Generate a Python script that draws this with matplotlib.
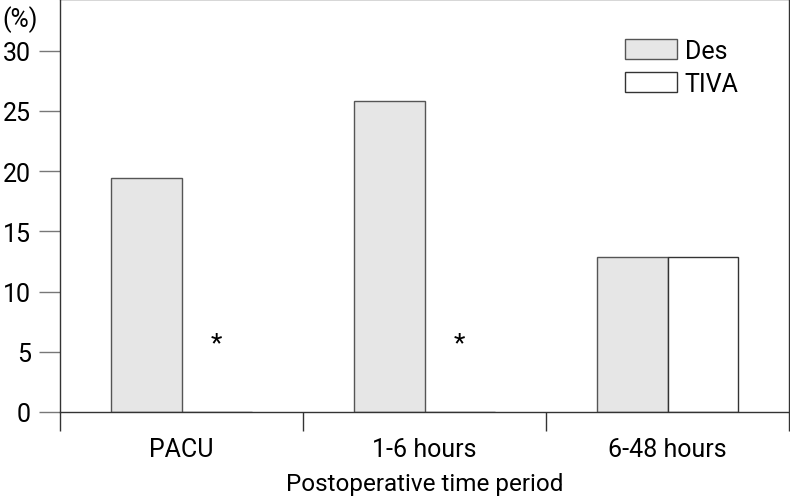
import numpy as np
import matplotlib
matplotlib.use("Agg")
from matplotlib import pyplot as plt

periods = ["PACU", "1-6 hours", "6-48 hours"]
des = [19.4, 25.8, 12.9]
tiva = [0, 0, 12.9]
sig = [True, True, False]
star_y = 5.7

plt.rcParams['font.family'] = ['Liberation Sans Narrow', 'DejaVu Sans Condensed', 'Roboto', 'DejaVu Sans']

fig = plt.figure(figsize=(7.9, 5.02), dpi=100)
ax = fig.add_axes([60/790, 89/502, 729/790, 413/502])

x = np.arange(len(periods))
w = 0.29
ax.bar(x - w/2, des, w, color='#e6e6e6', edgecolor='#555555', linewidth=1, label='Des')
ax.bar(x + w/2, tiva, w, color='white', edgecolor='#333333', linewidth=1, label='TIVA')

for i, s in enumerate(sig):
    if s:
        ax.text(x[i] + w/2, star_y, '*', ha='center', va='center', fontsize=19)

ax.set_xlim(-0.5, 2.5)
ax.set_ylim(0, 34.3)
ax.set_yticks(np.arange(0, 31, 5))
ax.tick_params(axis='y', labelsize=18, length=15, width=1, color='#777777', pad=6)

ax.set_xticks([-0.5, 0.5, 1.5, 2.5])
ax.set_xticklabels([])
ax.tick_params(axis='x', which='major', length=14, width=1, color='#333333')
ax.set_xticks(x, minor=True)
ax.set_xticklabels(periods, minor=True)
ax.tick_params(axis='x', which='minor', length=0, labelsize=18, pad=18)

ax.set_xlabel('Postoperative time period', fontsize=17.5, labelpad=8)
fig.text(2/790, 1 - 20/502, '(%)', fontsize=18, va='center', ha='left')

for sp in ax.spines.values():
    sp.set_color('#333333')
    sp.set_linewidth(1)

ax.legend(loc='upper right', bbox_to_anchor=(0.962, 0.958), frameon=False, fontsize=18,
          handlelength=2.1, handleheight=0.85, handletextpad=0.3, labelspacing=0.35)

fig.savefig('out.png', dpi=100)
